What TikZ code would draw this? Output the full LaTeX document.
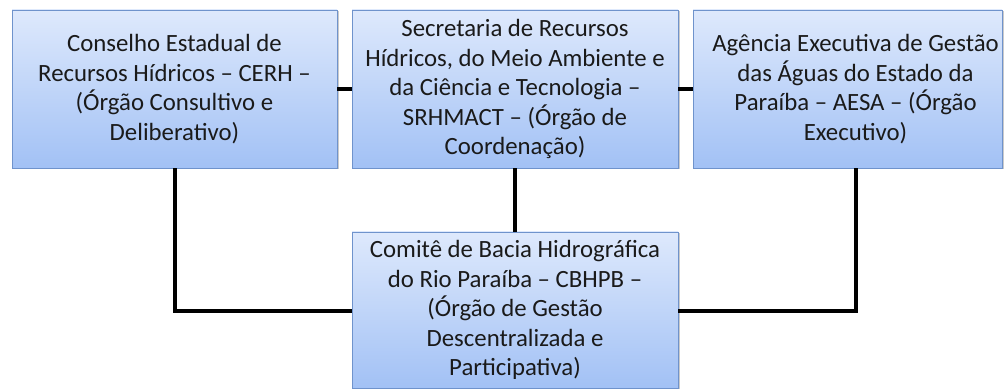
\documentclass[tikz,border=0pt]{standalone}
\usepackage{fontspec}
\setmainfont{Carlito}
\usetikzlibrary{shadows}
\definecolor{boxtop}{HTML}{DEE9FC}
\definecolor{boxbot}{HTML}{A2C1F5}
\definecolor{boxline}{HTML}{6F93CC}
\definecolor{txt}{HTML}{1A1A1A}
\tikzset{
  orgbox/.style={draw=boxline, line width=0.9pt, top color=boxtop, bottom color=boxbot,
    drop shadow={shadow xshift=1.5pt, shadow yshift=-1.5pt, opacity=0.35, fill=black!60},
    align=center, inner sep=0pt, text=txt, font=\fontsize{24.8}{29.5}\selectfont},
  orgtext/.style={align=center, inner sep=0pt, text=txt, font=\fontsize{24.8}{29.5}\selectfont},
  link/.style={draw=black, line width=3.2pt}
}
\begin{document}
\begin{tikzpicture}[x=1pt,y=1pt]
\useasboundingbox (0,0) rectangle (1006,390);
\begin{scope}
\clip (0,0) rectangle (1006,390);
\node[orgbox, minimum width=325pt, minimum height=158pt] (b1) at (174.5,301)
  {Conselho Estadual de\\Recursos Hídricos – CERH –\\(Órgão Consultivo e\\Deliberativo)};
\node[orgbox, minimum width=326pt, minimum height=158pt] (b2) at (515,301)
  {Secretaria de Recursos\\Hídricos, do Meio Ambiente e\\da Ciência e Tecnologia –\\SRHMACT – (Órgão de\\Coordenação)};
\node[orgbox, minimum width=309pt, minimum height=158pt] (b3) at (847.5,301) {};
\node[orgtext] (t3) at (855.5,301)
  {Agência Executiva de Gestão\\das Águas do Estado da\\Paraíba – AESA – (Órgão\\Executivo)};
\node[orgbox, minimum width=326pt, minimum height=156pt] (b4) at (515,80)
  {Comitê de Bacia Hidrográfica\\do Rio Paraíba – CBHPB –\\(Órgão de Gestão\\Descentralizada e\\Participativa)};
\end{scope}
\coordinate (c1) at (175,79);
\coordinate (c3) at (856,79);
\draw[link] (b1.east) -- (b2.west);
\draw[link] (b2.east) -- (b3.west);
\draw[link] (b2.south) -- (b4.north);
\draw[link] (b1.south -| c1) -- (c1) -- (b4.west |- c1);
\draw[link] (b3.south -| c3) -- (c3) -- (b4.east |- c3);
\end{tikzpicture}
\end{document}
